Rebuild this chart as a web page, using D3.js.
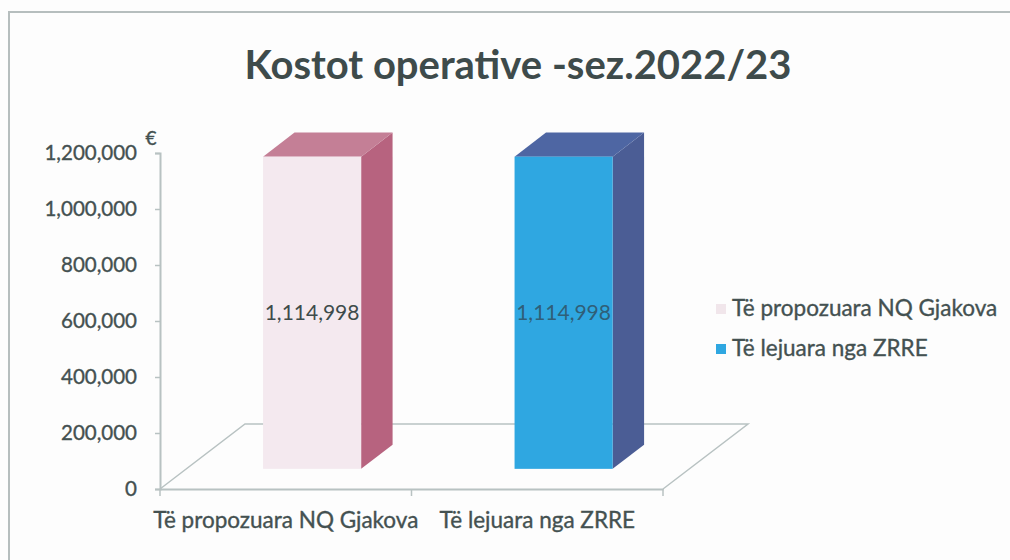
<html>
<script src="https://d3js.org/d3.v7.min.js"></script>
<style>
    body { margin: 0; background: #fdfdfd; overflow: hidden; }
    svg { display: block; font-family: Lato, "Open Sans", sans-serif; }
    .lbl { stroke: #445151; stroke-width: 0.35px; }
</style>
<svg width=1010 height=560></svg>
<script>

    // data
    let categories = ['Të propozuara NQ Gjakova', 'Të lejuara nga ZRRE'];
    let values = [1114998, 1114998];
    let yTicks = [0, 200000, 400000, 600000, 800000, 1000000, 1200000];
    let title = 'Kostot operative -sez.2022/23';

    // face colours per point: front, side, top
    let faces = [
        { front: '#f4e9ef', side: '#b7637f', top: '#c47f96', legend: '#f1e6eb' },
        { front: '#2fa7e1', side: '#4b5d95', top: '#4e66a3', legend: '#2fa7e1' }
    ];

    let svg = d3.select('svg');
    let textColor = '#445151',
        axisColor = '#b8c2c2',
        tickSize = 20.5,
        labelSize = 22.5;

    // frame
    svg.append('rect').attr('width', 1010).attr('height', 560).attr('fill', '#fdfdfd');
    svg.append('path')
        .attr('d', 'M9,560 V12 H1010')
        .attr('fill', 'none')
        .attr('stroke', '#b6bebe')
        .attr('stroke-width', 2);

    svg.append('text')
        .attr('x', 518).attr('y', 79)
        .attr('text-anchor', 'middle')
        .attr('font-size', 40)
        .attr('font-weight', 'bold')
        .attr('fill', '#3e4b4b')
        .text(title);

    let x = d3.scaleBand()
        .domain(categories)
        .range([160, 663]);

    let y = d3.scaleLinear()
        .domain([0, 1200000])
        .range([489, 153]);

    // depth of the 3d floor and where the bars sit in it
    let depth = [85, -65];
    let d0 = 0.31, d1 = 0.68;
    let barW = x.bandwidth() * 0.39;

    // floor
    let g = svg.append('g');
    let x0 = x.range()[0], x1 = x.range()[1], y0 = y(0);
    g.append('path')
        .attr('d', 'M' + x0 + ',' + y0 + 'L' + (x0 + depth[0]) + ',' + (y0 + depth[1]) +
            'H' + (x1 + depth[0]) + 'L' + x1 + ',' + y0)
        .attr('fill', 'none')
        .attr('stroke', axisColor)
        .attr('stroke-width', 1.5);

    // axes
    let yAxis = d3.axisLeft(y)
        .tickValues(yTicks)
        .tickSize(5)
        .tickPadding(18)
        .tickFormat(d3.format(','));

    let ya = svg.append('g')
        .attr('transform', 'translate(' + x0 + ',0)')
        .call(yAxis);
    ya.select('.domain').attr('stroke', axisColor).attr('stroke-width', 2);
    ya.selectAll('.tick line').attr('stroke', axisColor).attr('stroke-width', 1.5);
    ya.selectAll('.tick text')
        .attr('class', 'lbl')
        .attr('fill', textColor)
        .attr('font-size', tickSize)
        .attr('font-family', 'Lato, sans-serif');

    let xAxis = d3.axisBottom(x).tickSize(0).tickPadding(23);
    let xa = svg.append('g')
        .attr('transform', 'translate(0,' + y0 + ')')
        .call(xAxis);
    xa.select('.domain').attr('stroke', axisColor).attr('stroke-width', 2);
    xa.selectAll('.tick text')
        .attr('class', 'lbl')
        .attr('fill', textColor)
        .attr('font-size', labelSize)
        .attr('font-family', 'Lato, sans-serif');
    // category separators
    xa.selectAll('.sep')
        .data([x0, x0 + x.step(), x1])
        .enter().append('line')
        .attr('x1', d => d).attr('x2', d => d)
        .attr('y1', 0).attr('y2', 7)
        .attr('stroke', axisColor)
        .attr('stroke-width', 1.5);

    svg.append('text')
        .attr('class', 'lbl')
        .attr('x', 151).attr('y', 145)
        .attr('text-anchor', 'middle')
        .attr('font-size', 19)
        .attr('fill', textColor)
        .text('€');

    // 3d bars
    let bars = svg.selectAll('.bar')
        .data(values.map((v, i) => ({ cat: categories[i], value: v, c: faces[i] })))
        .enter().append('g')
        .attr('class', 'bar');

    function corners(d) {
        let cx = x(d.cat) + x.bandwidth() / 2;
        let fx = depth[0] * d0, fy = depth[1] * d0;
        let bx = depth[0] * d1, by = depth[1] * d1;
        let l = cx - barW / 2, r = cx + barW / 2, b = y(0), t = y(d.value);
        return { l: l + fx, r: r + fx, b: b + fy, t: t + fy, dx: bx - fx, dy: by - fy };
    }

    bars.append('path')
        .attr('d', d => {
            let k = corners(d);
            return 'M' + k.r + ',' + k.b + 'L' + (k.r + k.dx) + ',' + (k.b + k.dy) +
                'V' + (k.t + k.dy) + 'L' + k.r + ',' + k.t + 'Z';
        })
        .attr('fill', d => d.c.side);

    bars.append('path')
        .attr('d', d => {
            let k = corners(d);
            return 'M' + k.l + ',' + k.t + 'L' + (k.l + k.dx) + ',' + (k.t + k.dy) +
                'H' + (k.r + k.dx) + 'L' + k.r + ',' + k.t + 'Z';
        })
        .attr('fill', d => d.c.top);

    bars.append('rect')
        .attr('x', d => corners(d).l)
        .attr('y', d => corners(d).t)
        .attr('width', barW)
        .attr('height', d => corners(d).b - corners(d).t)
        .attr('fill', d => d.c.front);

    bars.append('text')
        .attr('x', d => (corners(d).l + corners(d).r) / 2)
        .attr('y', d => y(d.value / 2) + depth[1] * d0 + 7)
        .attr('text-anchor', 'middle')
        .attr('font-size', 21)
        .attr('fill', (d, i) => i ? '#2f5f78' : '#3e4b4b')
        .text(d => d3.format(',')(d.value));

    // legend
    let legend = svg.selectAll('.legend')
        .data(categories)
        .enter().append('g')
        .attr('class', 'legend')
        .attr('transform', (d, i) => 'translate(716,' + (309 + i * 40) + ')');

    legend.append('rect')
        .attr('x', 0).attr('y', -5)
        .attr('width', 10).attr('height', 10)
        .attr('fill', (d, i) => faces[i].legend);

    legend.append('text')
        .attr('class', 'lbl')
        .attr('x', 16).attr('y', 7)
        .attr('font-size', labelSize)
        .attr('fill', textColor)
        .text(d => d);

</script>
</html>
